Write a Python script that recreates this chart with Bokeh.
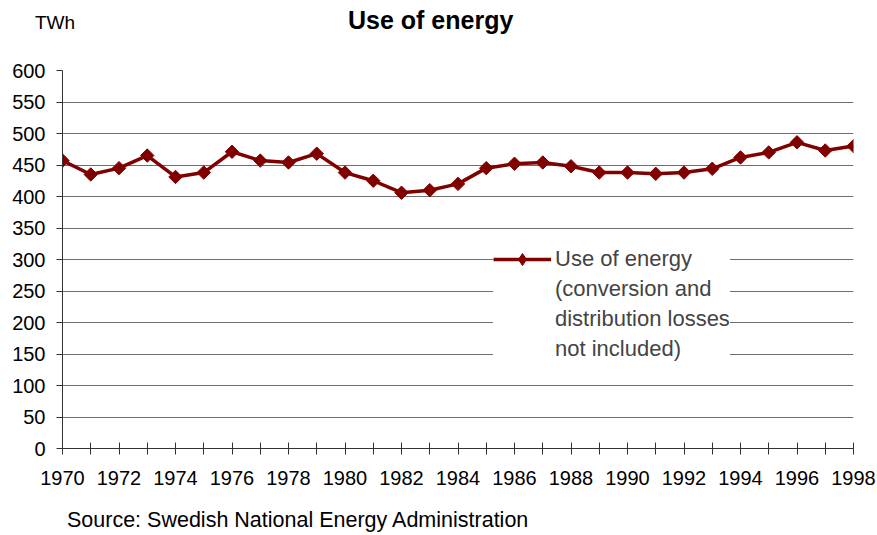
import math

from bokeh.plotting import figure
from bokeh.layouts import column
from bokeh.models import (FixedTicker, Legend, LegendItem, Range1d,
                          ColumnDataSource, Div)
from bokeh.embed import file_html
from bokeh.resources import INLINE

# Annual use of energy in Sweden, TWh
years = list(range(1970, 1999))
use_twh = [457, 435, 445, 465, 431, 438, 471, 457, 454, 468,
           438, 425, 406, 410, 420, 445, 452, 454, 448, 438,
           438, 436, 438, 444, 462, 470, 486, 473, 480]
y_ticks = list(range(0, 601, 50))
x_labels = {y: (str(y) if y % 2 == 0 else "") for y in years}
legend_lines = ["Use of energy", "(conversion and",
                "distribution losses", "not included)"]
title_text = "Use of energy"
unit_text = "TWh"
source_text = "Source: Swedish National Energy Administration"

FONT = "Liberation Sans"
RED = "#800000"
W = 877


def text_strip(height, spans):
    """An HTML strip holding absolutely placed pieces of text."""
    parts = []
    for text, left, top, size, weight in spans:
        parts.append(
            f'<span style="position:absolute;left:{left}px;top:{top}px;'
            f'font-size:{size}px;font-weight:{weight};line-height:1;'
            f'white-space:nowrap;color:black">{text}</span>')
    html = (f'<div style="position:relative;width:{W}px;height:{height}px;'
            f'font-family:\'{FONT}\';margin:0;padding:0">'
            + "".join(parts) + "</div>")
    return Div(text=html, width=W, height=height, margin=0)


header = text_strip(45, [(unit_text, 35, 13, 19, "normal"),
                         (title_text, 348, 8, 25, "bold")])
footer = text_strip(40, [(source_text, 67, 15, 21.5, "normal")])

p = figure(width=W, height=450, output_backend="svg", toolbar_location=None,
           x_range=Range1d(1970, 1998), y_range=Range1d(0, 600),
           min_border_left=62, min_border_right=24,
           min_border_top=25, min_border_bottom=47)
p.outline_line_color = None
p.background_fill_color = "white"
p.border_fill_color = "white"

# axes
p.xaxis.ticker = FixedTicker(ticks=years)
p.xaxis.major_label_overrides = x_labels
p.xaxis.major_tick_in = 6
p.xaxis.major_tick_out = 6
p.xaxis.minor_tick_line_color = None
p.xaxis.major_label_standoff = 16
p.yaxis.ticker = FixedTicker(ticks=y_ticks)
p.yaxis.major_tick_in = 0
p.yaxis.major_tick_out = 6
p.yaxis.minor_tick_line_color = None
p.yaxis.major_label_standoff = 11
for ax in (p.xaxis, p.yaxis):
    ax.axis_line_color = "#333333"
    ax.major_tick_line_color = "#333333"
    ax.major_label_text_font = FONT
    ax.major_label_text_font_size = "20px"
    ax.major_label_text_color = "black"

p.xgrid.grid_line_color = None
p.ygrid.ticker = FixedTicker(ticks=y_ticks)
p.ygrid.grid_line_color = "#6e6e6e"
p.ygrid.grid_line_width = 1

# series: line with diamond markers (squares turned by 45 degrees)
ln = p.line(years, use_twh, line_color=RED, line_width=3.5)
mk = p.scatter(years, use_twh, marker="square", size=9.5, angle=math.pi / 4,
               fill_color=RED, line_color=RED)

# legend-only renderers (no visible data): a diamond swatch and an
# invisible line for the continuation lines of the legend text
nan = float("nan")
swatch = p.scatter(x="x", y="y", source=ColumnDataSource(dict(x=[nan], y=[nan])),
                   marker="diamond", fill_color=RED, line_color=RED)
blank = p.line(x="x", y="y", source=ColumnDataSource(dict(x=[], y=[])),
               line_alpha=0)

items = [LegendItem(label=legend_lines[0], renderers=[ln, swatch])]
items += [LegendItem(label=t, renderers=[blank]) for t in legend_lines[1:]]
legend = Legend(items=items, location=(431, 84),
                background_fill_color="white", background_fill_alpha=1,
                border_line_color=None, label_text_font=FONT,
                label_text_font_size="22px", glyph_width=58,
                glyph_height=30, label_height=30, label_standoff=4,
                spacing=0, padding=10, margin=0)
p.add_layout(legend, "center")

page = column(header, p, footer, spacing=0)
open("out.html", "w").write(file_html(page, INLINE))
